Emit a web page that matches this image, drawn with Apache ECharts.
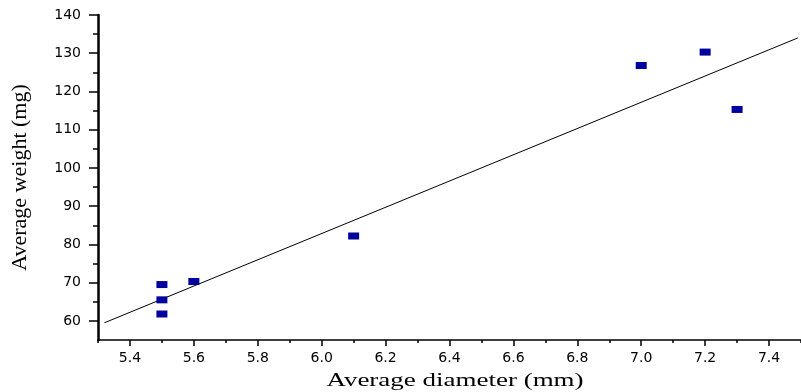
<!DOCTYPE html>
<html>
<head>
<meta charset="utf-8">
<script src="https://cdn.jsdelivr.net/npm/echarts@6/dist/echarts.min.js"></script>
<style>html,body{margin:0;padding:0;background:#fff}#c{width:801px;height:392px}</style>
</head>
<body>
<div id="c"></div>
<script>
// Data
const diameter = [5.5, 5.5, 5.5, 5.6, 6.1, 7.0, 7.2, 7.3];
const weight   = [69.5, 65.5, 61.8, 70.3, 82.2, 126.8, 130.3, 115.3];
const fitX = [5.32, 7.49];
const fitY = [59.5, 134.0];
const xTicks = [5.4, 5.6, 5.8, 6.0, 6.2, 6.4, 6.6, 6.8, 7.0, 7.2, 7.4];
const xMinorTicks = [5.3, 5.5, 5.7, 5.9, 6.1, 6.3, 6.5, 6.7, 6.9, 7.1, 7.3, 7.5];
const yTicks = [60, 70, 80, 90, 100, 110, 120, 130, 140];
const yMinorTicks = [65, 75, 85, 95, 105, 115, 125, 135];
const xName = 'Average diameter (mm)';
const yName = 'Average weight (mg)';

const chart = echarts.init(document.getElementById('c'), null, {renderer: 'canvas'});
const labelFont = {fontFamily: 'DejaVu Sans', fontSize: 14, color: '#000'};
const option = {
  animation: false,
  backgroundColor: '#fff',
  grid: {left: 98, top: 15, width: 708, height: 325, containLabel: false},
  xAxis: [{
    type: 'value', min: 5.3, max: 7.5, position: 'bottom',
    axisLine: {show: true, lineStyle: {color: '#000', width: 1.5}},
    axisTick: {show: true, customValues: xTicks, length: 6, lineStyle: {color: '#000', width: 1.5}},
    axisLabel: Object.assign({customValues: xTicks, margin: 11, formatter: v => Number(v).toFixed(1)}, labelFont),
    splitLine: {show: false}
  }, {
    type: 'value', min: 5.3, max: 7.5, position: 'bottom', offset: 0,
    axisLine: {show: false},
    axisTick: {show: true, customValues: xMinorTicks, length: 3, lineStyle: {color: '#000', width: 1.5}},
    axisLabel: {show: false},
    splitLine: {show: false}
  }],
  yAxis: [{
    type: 'value', min: 55, max: 140, position: 'left',
    name: yName, nameLocation: 'middle', nameGap: 67,
    nameTextStyle: {fontFamily: 'Liberation Serif', fontSize: 22, color: '#000'},
    axisLine: {show: true, lineStyle: {color: '#000', width: 2.5}},
    axisTick: {show: true, customValues: yTicks, length: 9, lineStyle: {color: '#000', width: 1.5}},
    axisLabel: Object.assign({customValues: yTicks, margin: 17}, labelFont),
    splitLine: {show: false}
  }, {
    type: 'value', min: 55, max: 140, position: 'left', offset: 0,
    axisLine: {show: false},
    axisTick: {show: true, customValues: yMinorTicks, length: 5, lineStyle: {color: '#000', width: 1.5}},
    axisLabel: {show: false},
    splitLine: {show: false}
  }],
  graphic: [{
    type: 'text', x: 455, y: 381, scaleX: 1.42,
    style: {text: xName, font: '19px "Liberation Serif"', fill: '#000', textAlign: 'center', textVerticalAlign: 'middle'}
  }],
  series: [{
    type: 'line', xAxisIndex: 0, yAxisIndex: 0,
    data: fitX.map((x, i) => [x, fitY[i]]),
    showSymbol: false, symbol: 'none',
    lineStyle: {color: '#000', width: 1}, z: 2
  }, {
    type: 'scatter', xAxisIndex: 0, yAxisIndex: 0,
    data: diameter.map((x, i) => [x, weight[i]]),
    symbol: 'rect', symbolSize: [11, 7],
    itemStyle: {color: '#00009c', opacity: 1}, z: 3
  }]
};
chart.setOption(option);
</script>
</body>
</html>
